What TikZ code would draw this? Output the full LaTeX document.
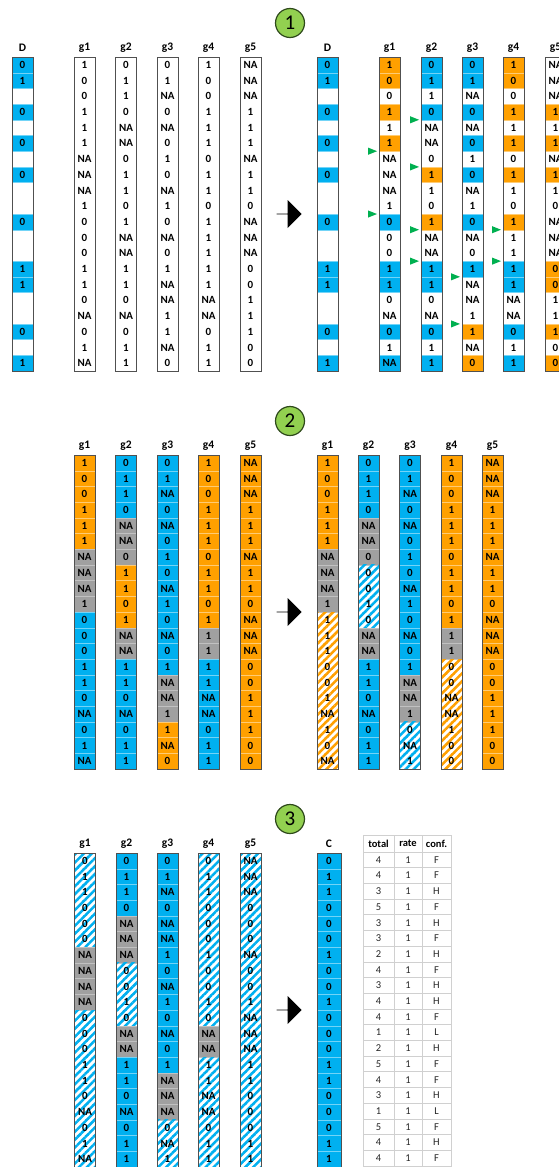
\documentclass[tikz,border=0pt]{standalone}
\usepackage{fontspec}
\setmainfont{Carlito}
\usetikzlibrary{calc,shapes.arrows,patterns.meta}

\definecolor{cblue}{HTML}{00B0F0}
\definecolor{corange}{HTML}{FFA000}
\definecolor{cgray}{HTML}{A0A0A0}
\definecolor{cgreen}{HTML}{92D050}
\definecolor{cgreenline}{HTML}{2F4A1C}
\definecolor{cmark}{HTML}{00B050}
\definecolor{cframe}{HTML}{505050}
\definecolor{cgrid}{HTML}{D0D0D0}

\tikzset{
  hdr/.style={font=\fontsize{11.5}{12}\selectfont\bfseries, inner sep=0pt},
  cell/.style={rectangle, minimum height=15.7pt, inner sep=0pt, outer sep=0pt,
    font=\fontsize{11}{11}\selectfont\bfseries},
  cw/.style={},
  cb/.style={fill=cblue, draw=cblue!55!white, line width=0.4pt},
  co/.style={fill=corange, draw=corange!55!white, line width=0.4pt},
  cg/.style={fill=cgray, draw=cgray!65!white, line width=0.4pt},
  chb/.style={pattern={Lines[angle=45,distance=5.6pt,line width=2.5pt]}, pattern color=cblue},
  cho/.style={pattern={Lines[angle=45,distance=5.6pt,line width=2.5pt]}, pattern color=corange},
  colframe/.style={draw=cframe, line width=0.9pt},
  stepnum/.style={circle, fill=cgreen, draw=cgreenline, line width=1.2pt,
    minimum size=29pt, inner sep=0pt, font=\fontsize{21}{21}\selectfont},
  bigarrow/.style={single arrow, fill=black, minimum height=25pt, minimum width=28pt,
    single arrow head extend=6.5pt, inner sep=0pt, outer sep=0pt},
  tcell/.style={inner sep=0pt, font=\fontsize{10.5}{11}\selectfont, text=black!85},
  thead/.style={inner sep=0pt, font=\fontsize{10.5}{11}\selectfont\bfseries},
}

% one column: name, left x, top y, width, header, list of value/colour pairs
\newcommand\gcol[6]{%
  \node[hdr] (#1h) at ({#2+#4/2}, {#3-9}) {#5};
  \foreach \v/\s [count=\i] in {#6} {
    \node[cell, minimum width=#4pt, c\s] (#1r\i) at ({#2+#4/2}, {#3+(\i-0.5)*15.7}) {\v};
  }
  \draw[colframe] (#2,#3) rectangle ({#2+#4}, {#3+314});
}

% green switch marker left of a cell boundary
\newcommand\switchmark[1]{%
  \fill[cmark] ($(#1.south west)+(-2,0)$) -- ++(-9,-3.6) -- ++(0,7.2) -- cycle;}

\begin{document}
\begin{tikzpicture}[x=1pt,y=-1pt]
\fill[white] (0,0) rectangle (559,1167);
\useasboundingbox (0,0) rectangle (559,1167);

% ---------------- step 1 ----------------
\node[stepnum] (n1) at (290,23) {1};

\gcol{aD}{12}{57}{21}{D}{0/b,1/b,{}/w,0/b,{}/w,0/b,{}/w,0/b,{}/w,{}/w,0/b,{}/w,{}/w,1/b,1/b,{}/w,{}/w,0/b,{}/w,1/b}
\gcol{ag1}{74}{57}{21}{g1}{1/w,0/w,0/w,1/w,1/w,1/w,NA/w,NA/w,NA/w,1/w,0/w,0/w,0/w,1/w,1/w,0/w,NA/w,0/w,1/w,NA/w}
\gcol{ag2}{115.5}{57}{21}{g2}{0/w,1/w,1/w,0/w,NA/w,NA/w,0/w,1/w,1/w,0/w,1/w,NA/w,NA/w,1/w,1/w,0/w,NA/w,0/w,1/w,1/w}
\gcol{ag3}{157}{57}{21}{g3}{0/w,1/w,NA/w,0/w,NA/w,0/w,1/w,0/w,NA/w,1/w,0/w,NA/w,0/w,1/w,NA/w,NA/w,1/w,1/w,NA/w,0/w}
\gcol{ag4}{198}{57}{21}{g4}{1/w,0/w,0/w,1/w,1/w,1/w,0/w,1/w,1/w,0/w,1/w,1/w,1/w,1/w,1/w,NA/w,NA/w,0/w,1/w,1/w}
\gcol{ag5}{240}{57}{21}{g5}{NA/w,NA/w,NA/w,1/w,1/w,1/w,NA/w,1/w,1/w,0/w,NA/w,NA/w,NA/w,0/w,0/w,1/w,1/w,1/w,0/w,0/w}

\node[bigarrow] (arr1) at (289,214) {};

\gcol{bD}{317}{57}{21}{D}{0/b,1/b,{}/w,0/b,{}/w,0/b,{}/w,0/b,{}/w,{}/w,0/b,{}/w,{}/w,1/b,1/b,{}/w,{}/w,0/b,{}/w,1/b}
\gcol{bg1}{379}{57}{21}{g1}{1/o,0/o,0/w,1/o,1/w,1/o,NA/w,NA/w,NA/w,1/w,0/b,0/w,0/w,1/b,1/b,0/w,NA/w,0/b,1/w,NA/b}
\gcol{bg2}{421}{57}{21}{g2}{0/b,1/b,1/w,0/b,NA/w,NA/w,0/w,1/o,1/w,0/w,1/o,NA/w,NA/w,1/b,1/b,0/w,NA/w,0/b,1/w,1/b}
\gcol{bg3}{462}{57}{21}{g3}{0/b,1/b,NA/w,0/b,NA/w,0/b,1/w,0/b,NA/w,1/w,0/b,NA/w,0/w,1/b,NA/w,NA/w,1/w,1/o,NA/w,0/o}
\gcol{bg4}{503}{57}{21}{g4}{1/o,0/o,0/w,1/o,1/w,1/o,0/w,1/o,1/w,0/w,1/o,1/w,1/w,1/b,1/b,NA/w,NA/w,0/b,1/w,1/b}
\gcol{bg5}{545}{57}{21}{g5}{NA/w,NA/w,NA/w,1/o,1/w,1/o,NA/w,1/o,1/w,0/w,NA/w,NA/w,NA/w,0/o,0/o,1/w,1/w,1/o,0/w,0/o}

\switchmark{bg1r6}  \switchmark{bg1r10}
\switchmark{bg2r4}  \switchmark{bg2r7}  \switchmark{bg2r11} \switchmark{bg2r13}
\switchmark{bg3r14} \switchmark{bg3r17}
\switchmark{bg4r11} \switchmark{bg4r13}

% ---------------- step 2 ----------------
\node[stepnum] (n2) at (290,421) {2};

\gcol{cg1}{74}{455}{21}{g1}{1/o,0/o,0/o,1/o,1/o,1/o,NA/g,NA/g,NA/g,1/g,0/b,0/b,0/b,1/b,1/b,0/b,NA/b,0/b,1/b,NA/b}
\gcol{cg2}{115.5}{455}{21}{g2}{0/b,1/b,1/b,0/b,NA/g,NA/g,0/g,1/o,1/o,0/o,1/o,NA/g,NA/g,1/b,1/b,0/b,NA/b,0/b,1/b,1/b}
\gcol{cg3}{157}{455}{21}{g3}{0/b,1/b,NA/b,0/b,NA/b,0/b,1/b,0/b,NA/b,1/b,0/b,NA/b,0/b,1/b,NA/g,NA/g,1/g,1/o,NA/o,0/o}
\gcol{cg4}{198}{455}{21}{g4}{1/o,0/o,0/o,1/o,1/o,1/o,0/o,1/o,1/o,0/o,1/o,1/g,1/g,1/b,1/b,NA/b,NA/b,0/b,1/b,1/b}
\gcol{cg5}{240}{455}{21}{g5}{NA/o,NA/o,NA/o,1/o,1/o,1/o,NA/o,1/o,1/o,0/o,NA/o,NA/o,NA/o,0/o,0/o,1/o,1/o,1/o,0/o,0/o}

\node[bigarrow] (arr2) at (289,612) {};

\gcol{dg1}{317}{455}{21}{g1}{1/o,0/o,0/o,1/o,1/o,1/o,NA/g,NA/g,NA/g,1/g,1/ho,1/ho,1/ho,0/ho,0/ho,1/ho,NA/ho,1/ho,0/ho,NA/ho}
\gcol{dg2}{358}{455}{21}{g2}{0/b,1/b,1/b,0/b,NA/g,NA/g,0/g,0/hb,0/hb,1/hb,0/hb,NA/g,NA/g,1/b,1/b,0/b,NA/b,0/b,1/b,1/b}
\gcol{dg3}{399.5}{455}{21}{g3}{0/b,1/b,NA/b,0/b,NA/b,0/b,1/b,0/b,NA/b,1/b,0/b,NA/b,0/b,1/b,NA/g,NA/g,1/g,0/hb,NA/hb,1/hb}
\gcol{dg4}{441}{455}{21}{g4}{1/o,0/o,0/o,1/o,1/o,1/o,0/o,1/o,1/o,0/o,1/o,1/g,1/g,0/ho,0/ho,NA/ho,NA/ho,1/ho,0/ho,0/ho}
\gcol{dg5}{482}{455}{21}{g5}{NA/o,NA/o,NA/o,1/o,1/o,1/o,NA/o,1/o,1/o,0/o,NA/o,NA/o,NA/o,0/o,0/o,1/o,1/o,1/o,0/o,0/o}

% ---------------- step 3 ----------------
\node[stepnum] (n3) at (290,819) {3};

\gcol{eg1}{74.5}{853}{21}{g1}{0/hb,1/hb,1/hb,0/hb,0/hb,0/hb,NA/g,NA/g,NA/g,NA/g,0/hb,0/hb,0/hb,1/hb,1/hb,0/hb,NA/hb,0/hb,1/hb,NA/hb}
\gcol{eg2}{116}{853}{21}{g2}{0/b,1/b,1/b,0/b,NA/g,NA/g,NA/g,0/hb,0/hb,1/hb,0/hb,NA/g,NA/g,1/b,1/b,0/b,NA/b,0/b,1/b,1/b}
\gcol{eg3}{157}{853}{21}{g3}{0/b,1/b,NA/b,0/b,NA/b,NA/b,1/b,0/b,NA/b,1/b,0/b,NA/b,0/b,1/b,NA/g,NA/g,NA/g,0/hb,NA/hb,1/hb}
\gcol{eg4}{198}{853}{21}{g4}{0/hb,1/hb,1/hb,0/hb,0/hb,0/hb,1/hb,0/hb,0/hb,1/hb,0/hb,NA/g,NA/g,1/hb,1/hb,NA/hb,NA/hb,0/hb,1/hb,1/hb}
\gcol{eg5}{240}{853}{21}{g5}{NA/hb,NA/hb,NA/hb,0/hb,0/hb,0/hb,NA/hb,0/hb,0/hb,1/hb,NA/hb,NA/hb,NA/hb,1/hb,1/hb,0/hb,0/hb,0/hb,1/hb,1/hb}

\node[bigarrow] (arr3) at (289,1010) {};

\gcol{eC}{317}{853}{24}{C}{0/b,1/b,1/b,0/b,0/b,0/b,1/b,0/b,0/b,1/b,0/b,0/b,0/b,1/b,1/b,0/b,0/b,0/b,1/b,1/b}

% summary table
\draw[cgrid, line width=0.8pt] (363,835) rectangle (451,1166);
\foreach \gx in {394,422} \draw[cgrid, line width=0.8pt] (\gx,835) -- (\gx,1166);
\foreach \k in {0,...,19} \draw[cgrid, line width=0.8pt] (363,{852+\k*15.7}) -- (451,{852+\k*15.7});
\node[thead] (th1) at (378.5,843.5) {total};
\node[thead] (th2) at (408,843.5) {rate};
\node[thead] (th3) at (436.5,843.5) {conf.};
\foreach \t/\c [count=\i] in {4/F,4/F,3/H,5/F,3/H,3/F,2/H,4/F,3/H,4/H,4/F,1/L,2/H,5/F,4/F,3/H,1/L,5/F,4/H,4/F} {
  \node[tcell] (tt\i) at (378.5, {852+(\i-0.5)*15.7}) {\t};
  \node[tcell] (tr\i) at (408, {852+(\i-0.5)*15.7}) {1};
  \node[tcell] (tc\i) at (436.5, {852+(\i-0.5)*15.7}) {\c};
}
\end{tikzpicture}
\end{document}
